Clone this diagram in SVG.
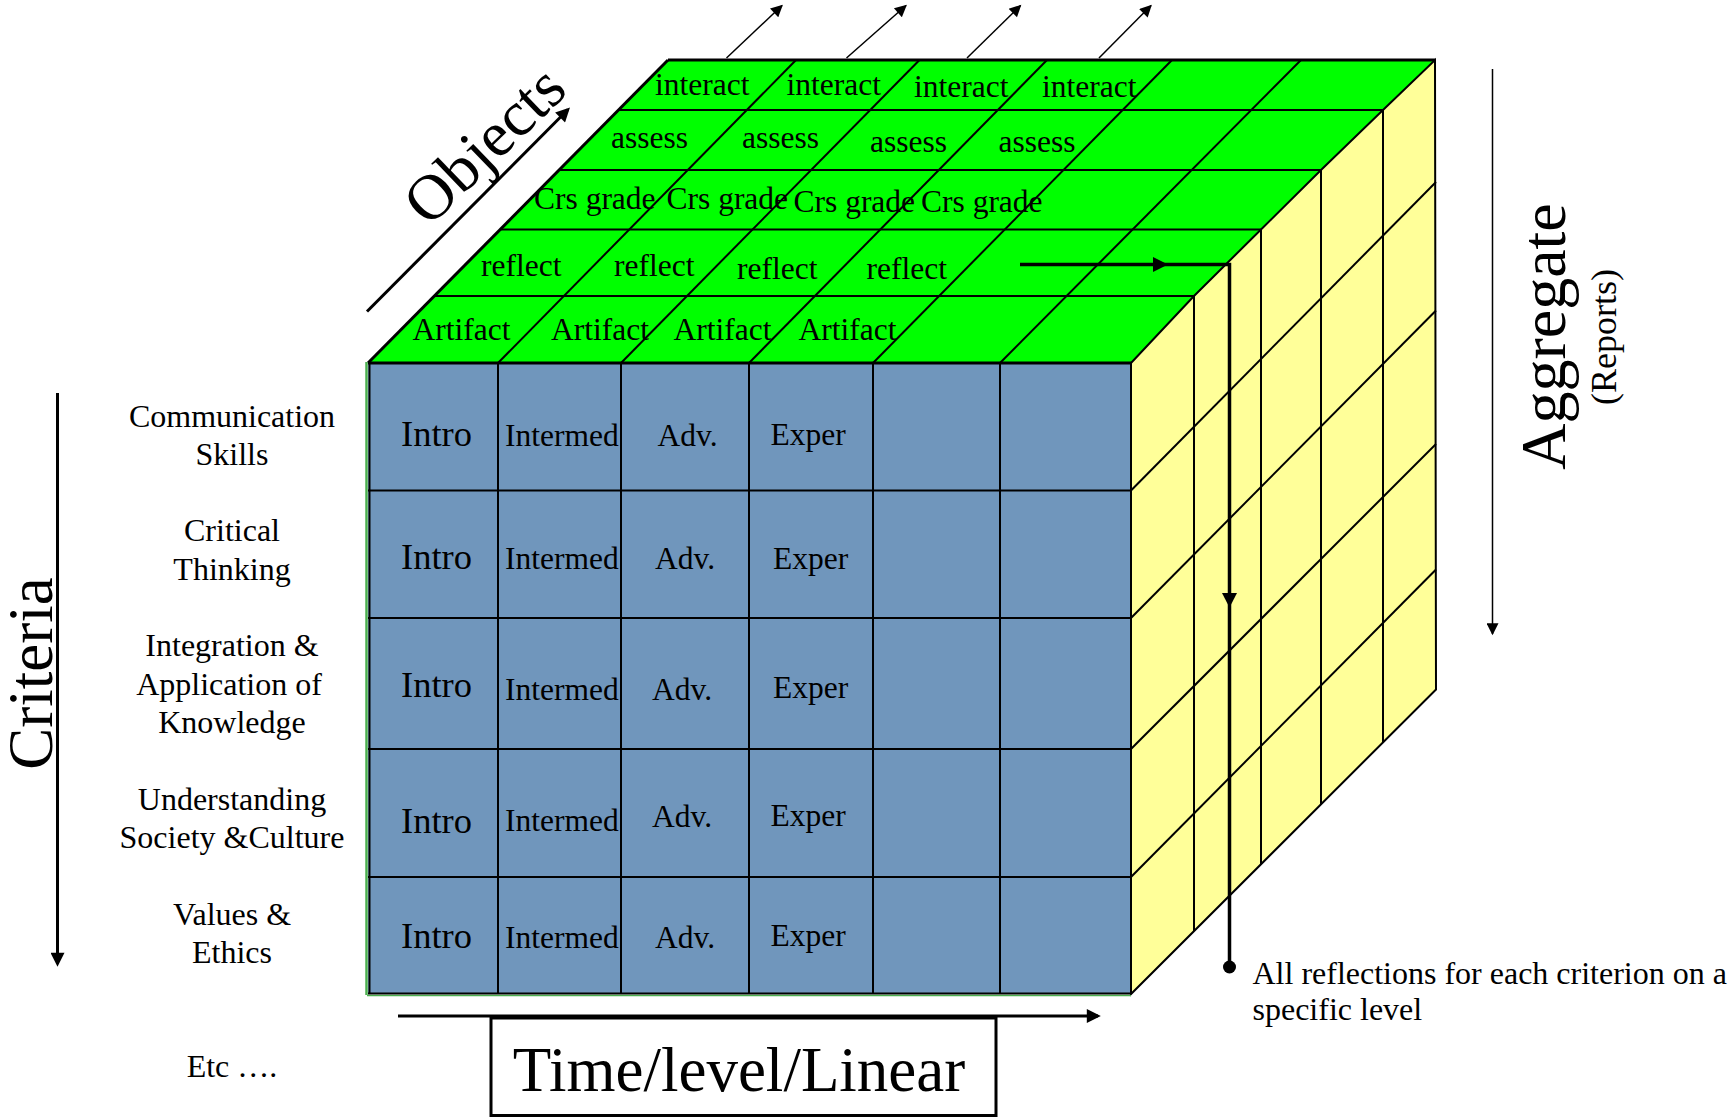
<svg xmlns="http://www.w3.org/2000/svg" width="1731" height="1118" viewBox="0 0 1731 1118">
<style>
text { font-family: "Liberation Serif", "Times New Roman", serif; fill: #000; }
.g2 { stroke: #000; stroke-width: 2; fill: none; }
.g3 { stroke: #000; stroke-width: 3; fill: none; }
.thin { stroke: #000; stroke-width: 1.5; fill: none; }
.tf { font-size: 31.5px; }
.ff { font-size: 31.5px; }
.fi { font-size: 36.5px; }
.crit { font-size: 32px; text-anchor: middle; }
</style>
<defs>
<marker id="ahBig" viewBox="0 0 10 10" refX="8" refY="5" markerWidth="20" markerHeight="14" markerUnits="userSpaceOnUse" orient="auto"><path d="M0,0 L10,5 L0,10 z" fill="#000"/></marker>
<marker id="ahSmall" viewBox="0 0 10 10" refX="9" refY="5" markerWidth="16" markerHeight="12" markerUnits="userSpaceOnUse" orient="auto"><path d="M0,0 L10,5 L0,10 z" fill="#000"/></marker>
</defs>
<rect width="1731" height="1118" fill="#fff"/>

<g id="top-face">
<polygon points="368,363 1131,363 1194,296 1261,229.5 1321,170 1383,110 1435,60 668,60" fill="#00FF00"/>
<line class="g2" x1="434.5" y1="296" x2="1194" y2="296"/>
<line class="g2" x1="500" y1="229.5" x2="1261" y2="229.5"/>
<line class="g2" x1="559" y1="170" x2="1321" y2="170"/>
<line class="g2" x1="618.5" y1="110" x2="1383" y2="110"/>
<line class="g3" x1="668" y1="60" x2="1435" y2="60"/>
<line class="g2" x1="498" y1="363" x2="796" y2="60"/>
<line class="g2" x1="621" y1="363" x2="919.5" y2="60"/>
<line class="g2" x1="749" y1="363" x2="1047" y2="60"/>
<line class="g2" x1="873" y1="363" x2="1172" y2="60"/>
<line class="g2" x1="1000" y1="363" x2="1301" y2="60"/>
<line class="g3" x1="368" y1="363" x2="668" y2="60"/>
<g class="tf">
<text x="655" y="95">interact</text><text x="786.5" y="95">interact</text><text x="914" y="96.5">interact</text><text x="1042" y="96.5">interact</text>
<text x="611" y="147.5">assess</text><text x="742" y="147.5">assess</text><text x="870" y="151.5">assess</text><text x="998.5" y="151.5">assess</text>
<text x="534" y="208.5">Crs grade</text><text x="666.5" y="208.5">Crs grade</text><text x="793.5" y="211.5">Crs grade</text><text x="921" y="211.5">Crs grade</text>
<text x="481" y="276">reflect</text><text x="614" y="276">reflect</text><text x="737" y="279">reflect</text><text x="866.5" y="279">reflect</text>
<text x="412.5" y="340">Artifact</text><text x="551" y="340">Artifact</text><text x="673.5" y="340">Artifact</text><text x="798.5" y="340">Artifact</text>
</g>
</g>

<g id="right-face">
<polygon points="1131,363 1194,296 1261,229.5 1321,170 1383,110 1435,60 1436,689.5 1131,994" fill="#FFFF99" stroke="#000" stroke-width="2"/>
<line class="g2" x1="1131" y1="490.5" x2="1436" y2="182"/>
<line class="g2" x1="1131" y1="618" x2="1436" y2="310.5"/>
<line class="g2" x1="1131" y1="749" x2="1436" y2="444"/>
<line class="g2" x1="1131" y1="877" x2="1436" y2="569.5"/>
<line class="g2" x1="1194" y1="296" x2="1194" y2="931"/>
<line class="g2" x1="1261" y1="229.5" x2="1261" y2="864"/>
<line class="g2" x1="1321" y1="170" x2="1321" y2="804"/>
<line class="g2" x1="1383" y1="110" x2="1383" y2="742.5"/>
</g>

<g id="front-face">
<rect x="368" y="363" width="763" height="631" fill="#7096BC"/>
<line x1="366.5" y1="362" x2="366.5" y2="995" stroke="#4CB050" stroke-width="2.5"/>
<line x1="367" y1="995.5" x2="1131" y2="995.5" stroke="#4CB050" stroke-width="1.5"/>
<line class="g3" x1="368" y1="363" x2="1131" y2="363"/>
<line class="g2" x1="369.5" y1="363" x2="369.5" y2="994"/>
<line class="g2" x1="498" y1="363" x2="498" y2="994"/>
<line class="g2" x1="621" y1="363" x2="621" y2="994"/>
<line class="g2" x1="749" y1="363" x2="749" y2="994"/>
<line class="g2" x1="873" y1="363" x2="873" y2="994"/>
<line class="g2" x1="1000" y1="363" x2="1000" y2="994"/>
<line class="g2" x1="1131" y1="363" x2="1131" y2="994"/>
<line class="g2" x1="368" y1="490.5" x2="1131" y2="490.5"/>
<line class="g2" x1="368" y1="618" x2="1131" y2="618"/>
<line class="g2" x1="368" y1="749" x2="1131" y2="749"/>
<line class="g2" x1="368" y1="877" x2="1131" y2="877"/>
<line class="g2" x1="368" y1="993.5" x2="1131" y2="993.5"/>
<g class="fi">
<text x="401" y="446">Intro</text><text x="401" y="569">Intro</text><text x="401" y="697">Intro</text><text x="401" y="833">Intro</text><text x="401" y="947.5">Intro</text>
</g>
<g class="ff">
<text x="505" y="445.5">Intermed</text><text x="505" y="569">Intermed</text><text x="505" y="700">Intermed</text><text x="505" y="830.5">Intermed</text><text x="505" y="947.5">Intermed</text>
<text x="657.5" y="445.5">Adv.</text><text x="655" y="569">Adv.</text><text x="652" y="700">Adv.</text><text x="652" y="827">Adv.</text><text x="655" y="947.5">Adv.</text>
<text x="770.5" y="445">Exper</text><text x="773" y="569">Exper</text><text x="773" y="698">Exper</text><text x="770.5" y="826">Exper</text><text x="770.5" y="946">Exper</text>
</g>
</g>

<g id="criteria-labels">
<text class="crit" x="232" y="426.5">Communication</text>
<text class="crit" x="232" y="465">Skills</text>
<text class="crit" x="232" y="541">Critical</text>
<text class="crit" x="232" y="580">Thinking</text>
<text class="crit" x="232" y="655.5">Integration &amp;</text>
<text class="crit" x="229" y="694.5">Application of</text>
<text class="crit" x="232" y="732.5">Knowledge</text>
<text class="crit" x="232" y="810">Understanding</text>
<text class="crit" x="232" y="848">Society &amp;Culture</text>
<text class="crit" x="232" y="924.5">Values &amp;</text>
<text class="crit" x="232" y="963">Ethics</text>
<text class="crit" x="232" y="1077">Etc ….</text>
</g>

<g id="axis-labels">
<text transform="translate(499,160) rotate(-44)" text-anchor="middle" font-size="64">Objects</text>
<text transform="translate(52,673.5) rotate(-90)" text-anchor="middle" font-size="63">Criteria</text>
<text transform="translate(1565,336.5) rotate(-90)" text-anchor="middle" font-size="64">Aggregate</text>
<text transform="translate(1616,337) rotate(-90)" text-anchor="middle" font-size="36">(Reports)</text>
</g>

<g id="reflection-note">
<text x="1252.5" y="984" font-size="32">All reflections for each criterion on a</text>
<text x="1252.5" y="1020" font-size="32">specific level</text>
</g>

<g id="time-box">
<rect x="491" y="1018" width="505" height="97.5" fill="#fff" stroke="#000" stroke-width="3"/>
<text x="739" y="1091" text-anchor="middle" font-size="63">Time/level/Linear</text>
</g>

<g id="connectors">
<line class="g3" x1="367" y1="311.5" x2="568" y2="109.5" marker-end="url(#ahBig)"/>
<line class="g3" x1="57.5" y1="393" x2="57.5" y2="964" marker-end="url(#ahBig)"/>
<line class="thin" x1="1492.5" y1="69" x2="1492.5" y2="634" marker-end="url(#ahSmall)"/>
<line class="g3" x1="398" y1="1016" x2="1098" y2="1016" marker-end="url(#ahBig)"/>
<line class="thin" x1="726.5" y1="58" x2="782" y2="5.5" marker-end="url(#ahSmall)"/>
<line class="thin" x1="846.5" y1="58" x2="906" y2="5.5" marker-end="url(#ahSmall)"/>
<line class="thin" x1="967" y1="58" x2="1020.5" y2="5.5" marker-end="url(#ahSmall)"/>
<line class="thin" x1="1099" y1="58" x2="1151" y2="5.5" marker-end="url(#ahSmall)"/>
<path d="M1020,264.5 H1229.5 V967" fill="none" stroke="#000" stroke-width="3.5"/>
<polygon points="1153,257 1168,264.5 1153,272" fill="#000"/>
<polygon points="1222,593 1237,593 1229.5,607.5" fill="#000"/>
<circle cx="1229.5" cy="967" r="6.5" fill="#000"/>
</g>
</svg>
